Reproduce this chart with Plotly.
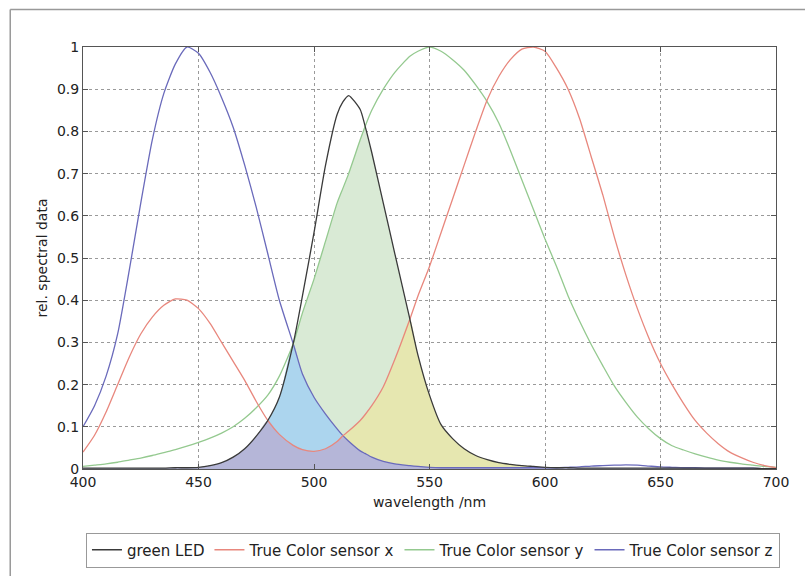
import numpy as np
import plotly.graph_objects as go

# wavelengths (nm)
wavelength = [400, 405, 410, 415, 420, 425, 430, 435, 440, 445, 450, 455, 460, 465, 470, 475, 480, 485,
              491, 495, 500, 505, 510, 512.5, 515, 520, 522, 525, 530, 535, 541.5, 545, 550, 555, 560,
              565, 570, 575, 580, 585, 590, 595, 600, 605, 610, 615, 620, 625, 630, 635, 640, 645, 650,
              655, 660, 665, 670, 675, 680, 685, 690, 695, 700]

sensor_z = [0.10, 0.15, 0.22, 0.32, 0.47, 0.63, 0.78, 0.89, 0.96, 1.00, 0.985, 0.94, 0.88, 0.81, 0.72, 0.62, 0.51, 0.40,
            0.297, 0.225, 0.17, 0.13, 0.095, 0.079, 0.066, 0.043, 0.037, 0.028, 0.018, 0.012, 0.008, 0.006, 0.004, 0.003, 0.003,
            0.003, 0.003, 0.003, 0.003, 0.003, 0.003, 0.003, 0.003, 0.003, 0.004, 0.005, 0.007, 0.008, 0.009, 0.010, 0.009, 0.007, 0.005,
            0.004, 0.003, 0.003, 0.002, 0.002, 0.002, 0.002, 0.002, 0.001, 0.001]

sensor_x = [0.04, 0.08, 0.135, 0.20, 0.265, 0.32, 0.36, 0.388, 0.403, 0.40, 0.38, 0.345, 0.30, 0.255, 0.21, 0.16, 0.115, 0.082,
            0.056, 0.046, 0.042, 0.048, 0.065, 0.079, 0.09, 0.115, 0.128, 0.15, 0.195, 0.26, 0.355, 0.41, 0.48, 0.56, 0.64,
            0.72, 0.80, 0.875, 0.93, 0.97, 0.995, 1.00, 0.99, 0.95, 0.90, 0.83, 0.74, 0.65, 0.55, 0.46, 0.38, 0.31, 0.25,
            0.20, 0.155, 0.115, 0.085, 0.06, 0.04, 0.027, 0.016, 0.008, 0.003]

sensor_y = [0.006, 0.009, 0.012, 0.016, 0.021, 0.026, 0.032, 0.039, 0.046, 0.054, 0.063, 0.073, 0.085, 0.10, 0.12, 0.145, 0.175, 0.22,
            0.297, 0.37, 0.45, 0.54, 0.63, 0.665, 0.70, 0.78, 0.81, 0.85, 0.90, 0.94, 0.978, 0.99, 1.00, 0.99, 0.97,
            0.945, 0.91, 0.87, 0.82, 0.755, 0.685, 0.615, 0.545, 0.48, 0.41, 0.35, 0.295, 0.245, 0.197, 0.158, 0.123, 0.095, 0.072,
            0.055, 0.045, 0.036, 0.028, 0.021, 0.016, 0.012, 0.009, 0.006, 0.004]

green_led = [0.002, 0.002, 0.002, 0.002, 0.002, 0.002, 0.002, 0.002, 0.003, 0.003, 0.004, 0.008, 0.015, 0.028, 0.048, 0.078, 0.115, 0.17,
             0.297, 0.41, 0.56, 0.72, 0.84, 0.87, 0.885, 0.852, 0.815, 0.75, 0.63, 0.51, 0.355, 0.27, 0.175, 0.105, 0.072,
             0.048, 0.032, 0.022, 0.015, 0.011, 0.008, 0.006, 0.004, 0.003, 0.003, 0.002, 0.002, 0.002, 0.002, 0.002, 0.002, 0.002, 0.002,
             0.002, 0.002, 0.002, 0.002, 0.002, 0.002, 0.002, 0.002, 0.001, 0.001]

x_ticks = [400, 450, 500, 550, 600, 650, 700]
y_ticks = [0, 0.1, 0.2, 0.3, 0.4, 0.5, 0.6, 0.7, 0.8, 0.9, 1]
y_tick_text = ["0", "0.1", "0.2", "0.3", "0.4", "0.5", "0.6", "0.7", "0.8", "0.9", "1"]

wl = np.array(wavelength)
L = np.array(green_led)
X = np.array(sensor_x)
Y = np.array(sensor_y)
Z = np.array(sensor_z)

FONT = "DejaVu Sans"
SMOOTH = 0.6
fig = go.Figure()

fills = [
    (np.minimum(L, Y), "#d9ead5"),
    (np.minimum(L, X), "#e6e7b0"),
    (np.minimum(L, Z), "#acd5ee"),
    (np.minimum(np.minimum(L, X), Z), "#b5b6d8"),
]
for vals, col in fills:
    fig.add_trace(go.Scatter(x=wl, y=vals, mode="lines", fill="tozeroy", fillcolor=col,
                             line=dict(width=0, shape="spline", smoothing=SMOOTH),
                             showlegend=False, hoverinfo="skip"))

lines = [
    ("True Color sensor z", Z, "#6a6abb", 4),
    ("True Color sensor y", Y, "#94c98f", 3),
    ("True Color sensor x", X, "#e8877d", 2),
    ("green LED", L, "#3a3a3a", 1),
]
for name, vals, col, rank in lines:
    fig.add_trace(go.Scatter(x=wl, y=vals, mode="lines", name=name, legendrank=rank,
                             line=dict(color=col, width=1.3, shape="spline", smoothing=SMOOTH)))

axis_common = dict(showline=True, linecolor="#555", linewidth=1, mirror="ticks", ticks="inside",
                   ticklen=5, tickcolor="#555", showgrid=True, gridcolor="#9a9a9a", griddash="dot",
                   gridwidth=1, zeroline=False, automargin=False,
                   tickfont=dict(family=FONT, size=14, color="#222"))

fig.update_xaxes(range=[400, 700], tickvals=x_ticks, **axis_common,
                 title=dict(text="wavelength /nm", font=dict(family=FONT, size=14, color="#222"), standoff=8))
fig.update_yaxes(range=[0, 1], tickvals=y_ticks, ticktext=y_tick_text, **axis_common,
                 title=dict(text="rel. spectral data", font=dict(family=FONT, size=14, color="#222"), standoff=6))

# outer frame (top and left edges visible in the reference)
fig.add_shape(type="line", xref="paper", yref="paper", x0=-0.105, x1=1.2, y0=1.089, y1=1.089,
              line=dict(color="#999", width=1.5), layer="below")
fig.add_shape(type="line", xref="paper", yref="paper", x0=-0.105, x1=-0.105, y0=-0.4, y1=1.089,
              line=dict(color="#999", width=1.5), layer="below")

fig.update_layout(
    width=805, height=576,
    margin=dict(l=83, r=29, t=47, b=107, autoexpand=False),
    paper_bgcolor="white", plot_bgcolor="white",
    font=dict(family=FONT, size=13, color="#222"),
    legend=dict(orientation="h", x=0.505, xanchor="center", y=-0.192, yanchor="middle",
                bordercolor="#999", borderwidth=1, bgcolor="white",
                font=dict(family=FONT, size=15, color="#222"), traceorder="normal"),
    showlegend=True,
)

fig.write_html("out.html")
